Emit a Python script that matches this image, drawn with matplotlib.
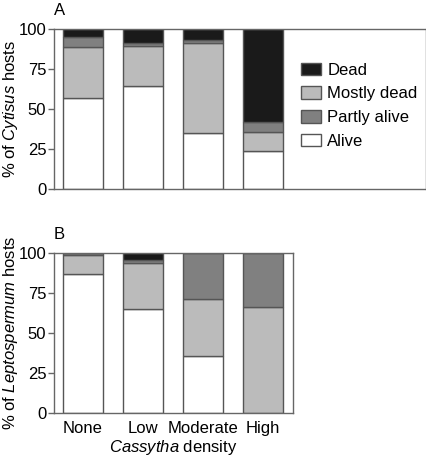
"""Stacked bar chart of host condition by Cassytha density (panels A and B)."""

import matplotlib

matplotlib.use("Agg")
import matplotlib.pyplot as plt
import numpy as np

plt.rcParams["font.family"] = ["Liberation Sans", "DejaVu Sans"]
plt.rcParams["mathtext.fontset"] = "custom"
plt.rcParams["mathtext.rm"] = "Liberation Sans"
plt.rcParams["mathtext.it"] = "Liberation Sans:italic"

densities = ["None", "Low", "Moderate", "High"]
states = ["Alive", "Partly alive", "Mostly dead", "Dead"]
state_colors = ["#ffffff", "#808080", "#bbbbbb", "#1a1a1a"]

# percentages per density, bottom to top: alive, partly alive, mostly dead, dead
cytisus_alive = [57, 64.5, 35, 24]
cytisus_mostly = [31.5, 25, 56.5, 11.5]
cytisus_partly = [6.5, 2, 1.5, 6.5]
cytisus_dead = [5, 8.5, 7, 58]

lepto_alive = [87, 65, 35.5, 0]
lepto_mostly = [11.5, 28.5, 35.5, 66]
lepto_partly = [1.5, 2, 29, 34]
lepto_dead = [0, 4.5, 0, 0]

EDGE = "#555555"
SPINE = "#666666"
FS = 12


def stack(ax, alive, mostly, partly, dead):
    x = np.arange(len(densities))
    bottom = np.zeros(len(densities))
    # stacking order: alive, mostly dead, partly alive, dead
    for vals, col in [(alive, state_colors[0]), (mostly, state_colors[2]),
                      (partly, state_colors[1]), (dead, state_colors[3])]:
        vals = np.array(vals, dtype=float)
        ax.bar(x, vals, bottom=bottom, width=0.667, color=col,
               edgecolor=EDGE, linewidth=1.0)
        bottom += vals
    ax.set_ylim(0, 100)
    ax.set_yticks([0, 25, 50, 75, 100])
    ax.tick_params(axis="y", direction="out", length=4, width=1,
                   color=SPINE, labelsize=FS, pad=1.5)
    ax.tick_params(axis="x", length=0, labelsize=FS, pad=6)
    for s in ax.spines.values():
        s.set_color(SPINE)
        s.set_linewidth(1.0)


fig = plt.figure(figsize=(4.27, 4.57), dpi=100)
ax_a = fig.add_axes([0.1265, 0.5864, 0.871, 0.350])
ax_b = fig.add_axes([0.1265, 0.0963, 0.5597, 0.350])

stack(ax_a, cytisus_alive, cytisus_mostly, cytisus_partly, cytisus_dead)
ax_a.set_xlim(-0.483, 5.72)
ax_a.set_xticks([])
ax_a.set_ylabel(r"% of $\it{Cytisus}$ hosts", fontsize=FS)
ax_a.yaxis.set_label_coords(-0.091, 0.5)
ax_a.text(0.0, 1.09, "A", transform=ax_a.transAxes, fontsize=FS,
          ha="left", va="baseline")

handles = [plt.Rectangle((0, 0), 1, 1, facecolor=state_colors[i],
                         edgecolor=EDGE, linewidth=1.0) for i in [3, 2, 1, 0]]
labels = ["Dead", "Mostly dead", "Partly alive", "Alive"]
ax_a.legend(handles, labels, loc="upper left", bbox_to_anchor=(0.665, 0.79),
            frameon=False, fontsize=FS, handlelength=1.2, handleheight=0.78,
            handletextpad=0.35, labelspacing=0.52, borderaxespad=0,
            borderpad=0)

stack(ax_b, lepto_alive, lepto_mostly, lepto_partly, lepto_dead)
ax_b.set_xlim(-0.483, 3.5)
ax_b.set_xticks(np.arange(len(densities)))
ax_b.set_xticklabels(densities)
ax_b.set_ylabel(r"% of $\it{Leptospermum}$ hosts", fontsize=FS)
ax_b.yaxis.set_label_coords(-0.142, 0.5)
ax_b.set_xlabel(r"$\it{Cassytha}$ density", fontsize=FS, labelpad=1)
ax_b.text(0.0, 1.09, "B", transform=ax_b.transAxes, fontsize=FS,
          ha="left", va="baseline")

fig.savefig("out.png", dpi=100)
